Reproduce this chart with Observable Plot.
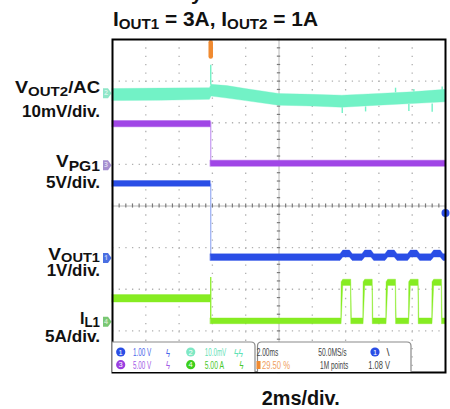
<!DOCTYPE html>
<html><head><meta charset="utf-8">
<script src="https://cdn.jsdelivr.net/npm/d3@7"></script>
<script src="https://cdn.jsdelivr.net/npm/@observablehq/plot@0.6"></script>
<style>
html,body{margin:0;padding:0;background:#fff;}
#wrap{position:relative;width:450px;height:409px;overflow:hidden;}
#wrap svg{position:absolute;left:0;top:0;}
</style></head><body><div id="wrap"></div>
<script>
// ---------- data: time in ms relative to trigger, amplitude in screen divisions ----------
const xDomain = [-5.9, 14.1];
const yDomain = [-4, 4];
const gridX = [-3.9, -1.9, 0.1, 2.1, 6.1, 8.1, 10.1, 12.1];
const centerX = [4.1];
const gridY = [-3, -2, -1, 1, 2, 3];
const centerY = [0];

// ch2  VOUT2 (AC coupled) noise envelope
const vout2T  = [-5.9, -3.0, -0.05, 0.05, 1.0, 2.1, 4.1, 6.1, 7.9, 10.1, 12.1, 14.1];
const vout2Hi = [2.81, 2.82, 2.83, 2.91, 2.88, 2.81, 2.69, 2.67, 2.65, 2.69, 2.73, 2.79];
const vout2Lo = [2.52, 2.53, 2.55, 2.63, 2.58, 2.52, 2.41, 2.39, 2.36, 2.41, 2.45, 2.49];
const vout2SpikeT    = [0, 7.9, 9.3, 11.1, 11.9, 12.2, 13.3, 13.9];
const vout2SpikeFrom = [2.90, 2.36, 2.38, 2.72, 2.44, 2.74, 2.45, 2.78];
const vout2SpikeTo   = [3.38, 2.22, 2.26, 2.83, 2.27, 2.80, 2.25, 2.86];

// segment times: start, trigger, end
const segT = [-5.9, 0, 14.1];
// ch3 VPG1 (before / after trigger)
const vpg1Hi = [2.04, 1.09];
const vpg1Lo = [1.89, 0.94];
// ch1 VOUT1
const vout1Hi = [0.60, -1.16];
const vout1Lo = [0.46, -1.32];
const vout1BumpHi = -1.07;
const vout1BumpLo = -1.24;
// ch4 IL1
const il1Hi = [-2.14, -2.70];
const il1Lo = [-2.32, -2.84];
const il1PulseHi = -1.77;
const il1PulseLo = -1.92;
const pulseRise = [7.84, 9.16, 10.54, 11.90, 13.30];
const pulseFall = [8.48, 9.77, 11.17, 12.53, 13.93];
// transitions at trigger
const stepName = ["vpg1", "vout1", "il1"];
const stepFrom = [2.02, 0.53, -1.72];
const stepTo   = [0.98, -1.22, -2.72];

// channel ground markers
const chName  = ["2", "3", "1", "4"];
const chLevel = [2.71, 0.98, -1.25, -2.78];
const trigLevel = [-0.17];

// colors
const C = {vout2: "#72f2c6", vpg1: "#a046e6", vout1: "#2a4ee6", il1: "#86ec22"};
const stepColor = ["#c9a0f2", "#9fb2f4", "#8cee2a"];
const chColor = ["#8fe6c8", "#a58fcf", "#4a6fe2", "#79c773"];

// ---------- tables built from the arrays ----------
const vout2Rows = vout2T.map((t, i) => ({t, lo: vout2Lo[i], hi: vout2Hi[i]}));
const flat = (hi, lo, k) => [{t: segT[k], lo: lo[k], hi: hi[k]}, {t: segT[k + 1], lo: lo[k], hi: hi[k]}];
const vpg1Pre = flat(vpg1Hi, vpg1Lo, 0), vpg1Post = flat(vpg1Hi, vpg1Lo, 1);
const vout1Pre = flat(vout1Hi, vout1Lo, 0);
const il1Pre = flat(il1Hi, il1Lo, 0);

const vout1Post = [{t: segT[1], lo: vout1Lo[1], hi: vout1Hi[1]}];
pulseRise.forEach((r, i) => {
  const f = pulseFall[i];
  vout1Post.push({t: r - 0.05, lo: vout1Lo[1], hi: vout1Hi[1]});
  vout1Post.push({t: r + 0.12, lo: vout1BumpLo, hi: vout1BumpHi});
  vout1Post.push({t: f - 0.12, lo: vout1BumpLo, hi: vout1BumpHi});
  vout1Post.push({t: f + 0.05, lo: vout1Lo[1], hi: vout1Hi[1]});
});
vout1Post.push({t: segT[2], lo: vout1Lo[1], hi: vout1Hi[1]});

const il1Post = [{t: segT[1], lo: il1Lo[1], hi: il1Hi[1]}];
pulseRise.forEach((r, i) => {
  const f = pulseFall[i];
  il1Post.push({t: r, lo: il1Lo[1], hi: il1Hi[1]});
  il1Post.push({t: r + 0.02, lo: il1Lo[1], hi: il1PulseHi - 0.06});
  il1Post.push({t: r + 0.12, lo: il1PulseLo, hi: il1PulseHi});
  il1Post.push({t: f - 0.06, lo: il1PulseLo, hi: il1PulseHi});
  il1Post.push({t: f - 0.04, lo: il1Lo[1], hi: il1PulseHi});
  il1Post.push({t: f, lo: il1Lo[1], hi: il1Hi[1]});
});
il1Post.push({t: segT[2], lo: il1Lo[1], hi: il1Hi[1]});

const spikes = vout2SpikeT.map((t, i) => ({t, a: vout2SpikeFrom[i], b: vout2SpikeTo[i]}));
const steps = stepName.map((n, i) => ({n, a: stepFrom[i], b: stepTo[i], c: stepColor[i]}));
const chRows = chName.map((n, i) => ({n, y: chLevel[i], c: chColor[i]}));

// minor ticks on the centre cross (5 per division)
const minorX = d3.range(0, 51).map(i => xDomain[0] + i * 0.4);
const minorY = d3.range(0, 41).map(i => yDomain[0] + i * 0.2);

const tabSymbol = {draw(ctx) {
  ctx.moveTo(-4, -5); ctx.lineTo(1, -5); ctx.lineTo(4.5, 0); ctx.lineTo(1, 5); ctx.lineTo(-4, 5); ctx.closePath();
}};

const band = (rows, color) => Plot.areaY(rows, {x: "t", y1: "lo", y2: "hi", fill: color, stroke: color, strokeOpacity: 0.45, strokeWidth: 0.8, curve: "linear"});

const plot = Plot.plot({
  width: 450, height: 409,
  marginLeft: 112, marginRight: 5, marginTop: 39, marginBottom: 37,
  x: {domain: xDomain, axis: null},
  y: {domain: yDomain, axis: null},
  color: {type: "identity"},
  style: {background: "transparent", overflow: "visible"},
  marks: [
    Plot.ruleX(gridX, {stroke: "#b0b0b0", strokeWidth: 1.3, strokeDasharray: "1.3,7.05"}),
    Plot.ruleY(gridY, {stroke: "#b0b0b0", strokeWidth: 1.3, strokeDasharray: "1.3,5.36"}),
    Plot.ruleX(centerX, {stroke: "#b8b8b8", strokeWidth: 1}),
    Plot.ruleY(centerY, {stroke: "#b8b8b8", strokeWidth: 1}),
    Plot.ruleY(minorY, {y: d => d, x1: d => centerX[0] - 0.1, x2: d => centerX[0] + 0.1, stroke: "#7a7a7a", strokeWidth: 1.2}),
    Plot.ruleX(minorX, {x: d => d, y1: d => centerY[0] - 0.05, y2: d => centerY[0] + 0.05, stroke: "#7a7a7a", strokeWidth: 1.2}),
    band(vout2Rows, C.vout2),
    Plot.ruleX(spikes, {x: "t", y1: "a", y2: "b", stroke: C.vout2, strokeWidth: 1.4}),
    Plot.ruleX(steps, {x: () => 0, y1: "a", y2: "b", stroke: "c", strokeWidth: 1.3}),
    band(vpg1Pre, C.vpg1), band(vpg1Post, C.vpg1),
    band(vout1Pre, C.vout1), band(vout1Post, C.vout1),
    band(il1Pre, C.il1), band(il1Post, C.il1),
    // trigger position marker
    Plot.ruleX([0], {y1: 3.58, y2: 3.92, stroke: "#f08a30", strokeWidth: 4.5, strokeLinecap: "round"}),
    // trigger level
    Plot.dot(trigLevel, {x: () => xDomain[1], y: d => d, r: 4, fill: C.vout1}),
    // channel ground markers
    Plot.dot(chRows, {x: () => xDomain[0], y: "y", fill: "c", symbol: tabSymbol, dx: -5.5, r: 4}),
    Plot.text(chRows, {x: () => xDomain[0], y: "y", text: "n", dx: -6.5, fill: "white", fillOpacity: 0.6, fontSize: 7, fontWeight: "bold"}),
    Plot.frame({stroke: "black", strokeWidth: 2})
  ]
});
document.getElementById("wrap").appendChild(plot);

// ---------- overlay: titles, channel labels and scope info panel ----------
const ov = d3.select("#wrap").append("svg").attr("width", 450).attr("height", 409)
  .attr("font-family", "'Liberation Sans', Arial, sans-serif");

function rich(x, y, parts, anchor, len) {
  const t = ov.append("text").attr("x", x).attr("y", y).attr("font-weight", "bold")
    .attr("text-anchor", anchor || "start").attr("fill", "#111");
  parts.forEach(p => t.append("tspan").attr("font-size", p[1]).attr("dy", p[2] || 0).text(p[0]));
  if (len) t.attr("textLength", len).attr("lengthAdjust", "spacingAndGlyphs");
  return t;
}
// partially visible line above title
rich(191, -0.5, [["y", 21]]);
rich(113, 25.5, [["I", 20], ["OUT1", 14.5, 3.3], [" = 3A, I", 20, -3.3], ["OUT2", 14.5, 3.3], [" = 1A", 20, -3.3]], "start", 205);
rich(100, 92.5, [["V", 17], ["OUT2", 13, 3], ["/AC", 16, -3]], "end", 85);
rich(100, 117.3, [["10mV/div.", 16.5]], "end", 78);
rich(100, 166.5, [["V", 17], ["PG1", 14, 4.5]], "end", 44);
rich(100, 188, [["5V/div.", 16.5]], "end", 54);
rich(100, 259.5, [["V", 17], ["OUT1", 13, 2.6]], "end", 51.7);
rich(100, 276.3, [["1V/div.", 16.5]], "end", 53.3);
rich(100, 324, [["I", 17], ["L1", 14, 2.8]], "end", 20);
rich(100, 342, [["5A/div.", 16.5]], "end", 55);
rich(261.7, 405, [["2ms/div.", 19.5]], "start", 78);

// info panel boxes
ov.append("path").attr("d", "M112,372V342H251Q255,342 255,346V372").attr("fill", "white").attr("stroke", "#8a8a8a").attr("stroke-width", 1.2);
ov.append("path").attr("d", "M257.5,372V346Q257.5,342 261.5,342H407Q411,342 411,346V372").attr("fill", "white").attr("stroke", "#8a8a8a").attr("stroke-width", 1.2);

function badge(cx, cy, col, label) {
  ov.append("circle").attr("cx", cx).attr("cy", cy).attr("r", 4.6).attr("fill", col);
  ov.append("text").attr("x", cx).attr("y", cy + 2.6).attr("text-anchor", "middle").attr("font-size", 7.5)
    .attr("fill", "white").text(label);
}
function small(x, y, s, col, len) {
  const t = ov.append("text").attr("x", x).attr("y", y).attr("font-size", 11).attr("fill", col).text(s);
  if (len) t.attr("textLength", len).attr("lengthAdjust", "spacingAndGlyphs");
}
badge(120.7, 352, "#2a4ee6", "1");
small(133, 356, "1.00 V", "#4a66ea", 18.3);
small(166, 356.5, "ϟ", "#4a66ea", 4);
badge(190.7, 352, "#7ee8c4", "2");
small(204.7, 356, "10.0mV", "#5fe2b6", 21.6);
small(234, 356.5, "ϟϟ", "#5fe2b6", 9);
badge(120.7, 364.7, "#9a3ee0", "3");
small(133, 368.7, "5.00 V", "#a35ae6", 18.3);
small(166, 369, "ϟ", "#a35ae6", 4);
badge(190.7, 364.7, "#3ccf1c", "4");
small(204.7, 368.7, "5.00 A", "#48c82a", 19.3);
small(239.5, 369, "ϟ", "#48c82a", 4);

small(256.7, 356, "2.00ms", "#444", 21.6);
small(318.3, 356, "50.0MS/s", "#444", 28.4);
badge(375, 352, "#2a4ee6", "1");
small(386.5, 356, "\\", "#444");
ov.append("rect").attr("x", 256.5).attr("y", 361).attr("width", 4).attr("height", 8).attr("fill", "#f08a30");
small(262, 368.7, "29.50 %", "#f0a060", 28);
small(320, 368.7, "1M points", "#444", 28.3);
small(368.3, 368.7, "1.08 V", "#444", 21.7);
</script></body></html>
